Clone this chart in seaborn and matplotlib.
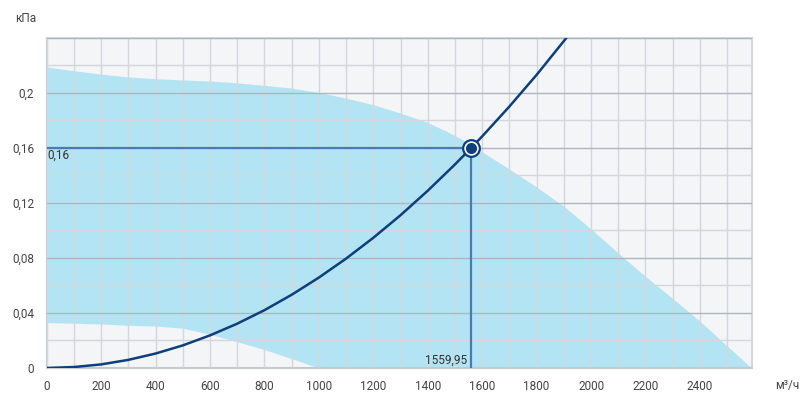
import numpy as np
import pandas as pd
import seaborn as sns
import matplotlib.pyplot as plt
from matplotlib.ticker import MultipleLocator, FuncFormatter

# --- data ---
# working area of the fan (upper and lower limits), m3/h vs kPa
upper_x = [0, 100, 200, 300, 400, 500, 600, 700, 800, 900, 1000, 1100, 1200, 1300,
           1400, 1500, 1560, 1600, 1700, 1800, 1900, 2000, 2100, 2200, 2300, 2400, 2500, 2590]
upper_y = [0.2187, 0.216, 0.2135, 0.2115, 0.2102, 0.2093, 0.2085, 0.2072, 0.2053, 0.2034,
           0.2002, 0.1961, 0.1913, 0.1852, 0.1784, 0.169, 0.162, 0.157, 0.1445, 0.1315,
           0.1175, 0.101, 0.0835, 0.0665, 0.0505, 0.034, 0.016, 0.0]
lower_x = [0, 100, 200, 300, 400, 500, 600, 700, 800, 900, 1000]
lower_y = [0.033, 0.0325, 0.032, 0.031, 0.0305, 0.0289, 0.0245, 0.0191, 0.0134, 0.0068, 0.0]

# system curve
curve_x = [0, 100, 200, 300, 400, 500, 600, 700, 800, 900, 1000, 1100, 1200,
           1300, 1400, 1500, 1560, 1600, 1700, 1800, 1910]
curve_y = [0.0, 0.0007, 0.0026, 0.0059, 0.0105, 0.0164, 0.0237, 0.0322, 0.042,
           0.0532, 0.0657, 0.0795, 0.0946, 0.111, 0.1288, 0.1479, 0.16, 0.1683,
           0.19, 0.213, 0.24]

# operating point
op_flow = 1559.95
op_press = 0.16

fill_color = '#b3e4f3'
navy = '#0d3f7c'
ref_color = '#4a7bb0'

sns.set_style('white')
plt.rcParams['font.family'] = ['Roboto', 'DejaVu Sans']

fig = plt.figure(figsize=(8.02, 3.98), dpi=100)
ax = fig.add_axes([0.0582, 0.0754, 0.8790, 0.8299])
ax.set_facecolor('#f4f5f7')

# working area
xs = np.union1d(upper_x, lower_x)
up = np.interp(xs, upper_x, upper_y)
lo = np.interp(xs, lower_x, lower_y, right=0.0)
ax.fill_between(xs, lo, up, color=fill_color, lw=0, zorder=1)

# grid on top of the fill
ax.xaxis.set_major_locator(MultipleLocator(200))
ax.xaxis.set_minor_locator(MultipleLocator(100))
ax.yaxis.set_major_locator(MultipleLocator(0.04))
ax.yaxis.set_minor_locator(MultipleLocator(0.02))
ax.grid(axis='x', which='both', color='#d3d6da', lw=1, zorder=2)
ax.grid(axis='y', which='minor', color='#d3d6da', lw=1, zorder=2)
ax.grid(axis='y', which='major', color='#aeb6c1', lw=1, zorder=2)
ax.set_axisbelow(False)
for gl in ax.get_xgridlines() + ax.get_ygridlines():
    gl.set_zorder(2)

# system curve
df = pd.DataFrame({'flow': curve_x, 'press': curve_y})
sns.lineplot(data=df, x='flow', y='press', ax=ax, color=navy, lw=1.8, zorder=4)

# reference lines to the operating point
ax.plot([0, op_flow], [op_press, op_press], color=ref_color, lw=1.6, zorder=3)
ax.plot([op_flow, op_flow], [0, op_press], color=ref_color, lw=1.6, zorder=3)
ax.plot(op_flow, op_press, 'o', ms=12, mfc='white', mec=navy, mew=1.6, zorder=5)
ax.plot(op_flow, op_press, 'o', ms=7, mfc=navy, mec=navy, zorder=6)

ax.text(4, op_press - 0.0008, '0,16', ha='left', va='top', fontsize=8.5, color='#333333', zorder=6)
ax.text(op_flow - 15, 0.0008, '1559,95', ha='right', va='bottom', fontsize=8.5, color='#333333', zorder=6)

ax.set_xlim(0, 2590)
ax.set_ylim(0, 0.24)
ax.set_xlabel('')
ax.set_ylabel('')


def y_label(v, p):
    if v > 0.23:
        return ''
    return ('%g' % round(v, 2)).replace('.', ',')


ax.yaxis.set_major_formatter(FuncFormatter(y_label))
ax.xaxis.set_major_formatter(FuncFormatter(lambda v, p: '%d' % v))
ax.tick_params(axis='both', which='major', length=6, width=1, color='#aeb6c1',
               labelsize=8.5, labelcolor='#444444', pad=3)
ax.tick_params(axis='both', which='minor', length=0)

for side in ['top', 'right']:
    ax.spines[side].set_color('#d3d6da')
    ax.spines[side].set_linewidth(1.5)
for side in ['left', 'bottom']:
    ax.spines[side].set_color('#c8cdd3')
    ax.spines[side].set_linewidth(1.5)

fig.text(15 / 802, 1 - 18 / 398, 'кПа', ha='left', va='center', fontsize=8.5, color='#444444')
fig.text(787 / 802, 1 - 385 / 398, 'м³/ч', ha='center', va='center', fontsize=8.5, color='#444444')

fig.savefig('out.png', dpi=100)
